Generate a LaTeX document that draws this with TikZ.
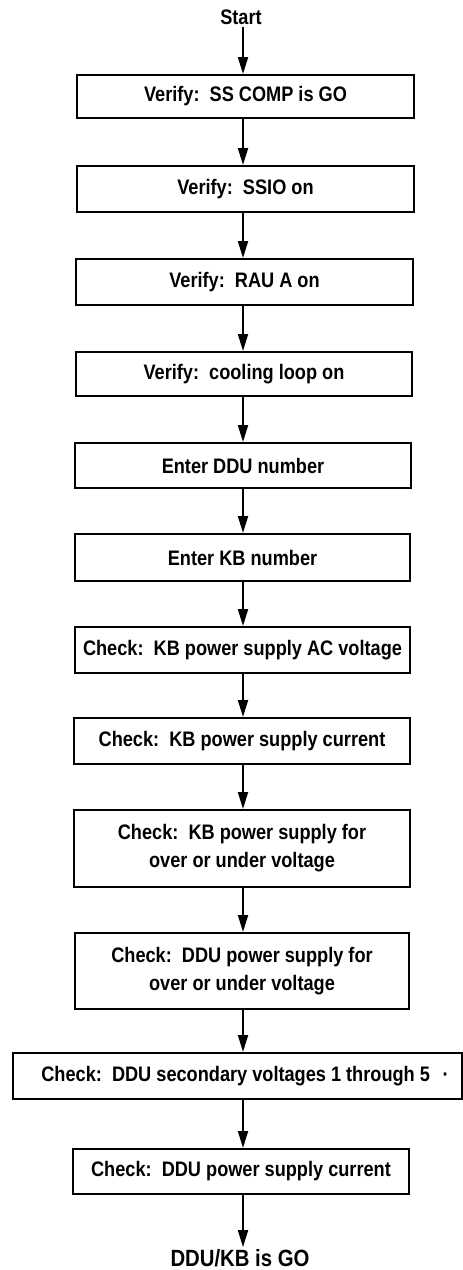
\documentclass[tikz,border=0pt]{standalone}
\usepackage{fontspec}
\setmainfont{Liberation Sans}[FakeStretch=0.865]
\usetikzlibrary{arrows.meta}
\tikzset{
  flowbox/.style={draw, line width=2pt, inner sep=0pt, align=center,
    font=\bfseries\fontsize{21}{28}\selectfont},
  term/.style={inner sep=2pt, font=\bfseries\fontsize{21}{24}\selectfont},
  arr/.style={line width=2pt, -{Triangle[length=17pt,width=10pt]}}
}
\begin{document}
\begin{tikzpicture}[x=1pt,y=-1pt]
\useasboundingbox (0,0) rectangle (463,1270);
\coordinate (ax) at (243,0);
\node[term] (start) at (241,17) {Start};
\node[flowbox, minimum width=337pt, minimum height=43pt] (b1) at (245.5,96.5) {Verify:\ \ SS COMP is GO};
\node[flowbox, minimum width=337pt, minimum height=46pt] (b2) at (245.5,189) {Verify:\ \ SSIO on};
\node[flowbox, minimum width=337pt, minimum height=46pt] (b3) at (244.5,282) {Verify:\ \ RAU A on};
\node[flowbox, minimum width=336pt, minimum height=44pt] (b4) at (244,374) {Verify:\ \ cooling loop on};
\node[flowbox, minimum width=336pt, minimum height=45pt] (b5) at (243,465.5) {Enter DDU number};
\node[flowbox, minimum width=335pt, minimum height=47pt] (b6) at (242.5,557.5) {Enter KB number};
\node[flowbox, minimum width=335pt, minimum height=46pt] (b7) at (242.5,650) {Check:\ \ KB power supply AC voltage};
\node[flowbox, minimum width=336pt, minimum height=46pt] (b8) at (242,741) {Check:\ \ KB power supply current};
\node[flowbox, minimum width=336pt, minimum height=77pt] (b9) at (242,848.5) {Check:\ \ KB power supply for\\over or under voltage};
\node[flowbox, minimum width=334pt, minimum height=76pt] (b10) at (242,971) {Check:\ \ DDU power supply for\\over or under voltage};
\node[flowbox, minimum width=449pt, minimum height=46pt] (b11) at (237,1076) {\hspace*{16pt}Check:\ \ DDU secondary voltages 1 through 5\hspace{0.6em}\textperiodcentered};
\node[flowbox, minimum width=336pt, minimum height=45pt] (b12) at (241,1171.5) {Check:\ \ DDU power supply current};
\node[term, font=\bfseries\fontsize{23.5}{26}\selectfont] (end) at (240,1258) {DDU/KB is GO};
\draw[arr] (start.south -| ax) -- (b1.north -| ax);
\draw[arr] (b1.south -| ax) -- (b2.north -| ax);
\draw[arr] (b2.south -| ax) -- (b3.north -| ax);
\draw[arr] (b3.south -| ax) -- (b4.north -| ax);
\draw[arr] (b4.south -| ax) -- (b5.north -| ax);
\draw[arr] (b5.south -| ax) -- (b6.north -| ax);
\draw[arr] (b6.south -| ax) -- (b7.north -| ax);
\draw[arr] (b7.south -| ax) -- (b8.north -| ax);
\draw[arr] (b8.south -| ax) -- (b9.north -| ax);
\draw[arr] (b9.south -| ax) -- (b10.north -| ax);
\draw[arr] (b10.south -| ax) -- (b11.north -| ax);
\draw[arr] (b11.south -| ax) -- (b12.north -| ax);
\draw[arr] (b12.south -| ax) -- (end.north -| ax);
\end{tikzpicture}
\end{document}
